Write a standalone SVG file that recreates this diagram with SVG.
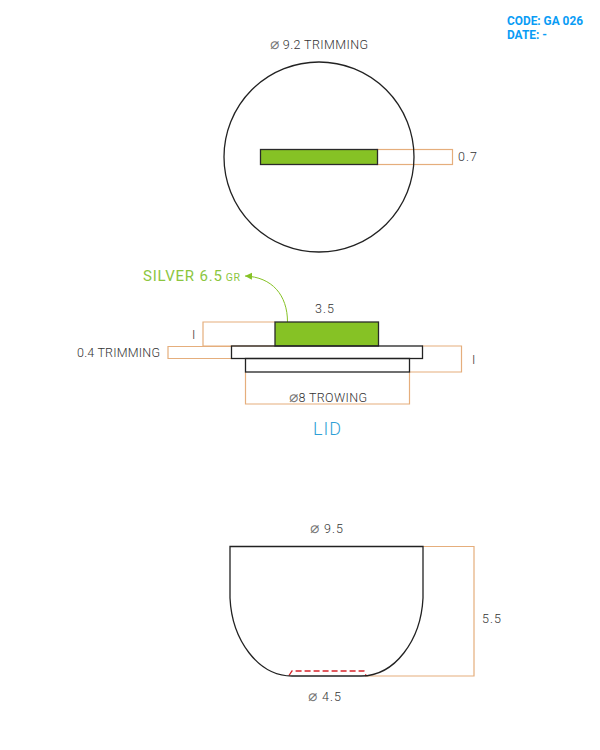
<svg xmlns="http://www.w3.org/2000/svg" width="600" height="750" viewBox="0 0 600 750">
<style>
.o{fill:none;stroke:#e5ae7c;stroke-width:1.2}
.k{fill:none;stroke:#222;stroke-width:1.3}
.g{fill:#86c225;stroke:#2a2a2a;stroke-width:1.3}
.t{font-family:Roboto,"Liberation Sans",sans-serif;font-weight:300;font-size:12.500px;fill:#333;letter-spacing:1px}
.d{font-family:"DejaVu Sans",sans-serif;font-size:15px;font-weight:400;fill:#777}
.c{font-family:Roboto,"Liberation Sans",sans-serif;font-size:12px;font-weight:700;fill:#0a9cf5}
</style>
<defs><marker id="ah" markerWidth="8" markerHeight="8" refX="7" refY="3.5" orient="auto"><path d="M0 0L7 3.5L0 7Z" fill="#86c225"/></marker></defs>
<rect width="600" height="750" fill="#fff"/>
<g id="connectors">
<rect class="o" x="377" y="149.500" width="75.500" height="15"/>
<path class="o" d="M275 322H203V346H275"/>
<path class="o" d="M231 346.500H168V358.500H231"/>
<path class="o" d="M422 346H461.500V372H409"/>
<path class="o" d="M245.500 372V404H409.500V372"/>
<path class="o" d="M423 546.500H474V676H365"/>
<path d="M287.500 322C287.500 295 272 277 245 276" fill="none" stroke="#86c225" stroke-width="1" marker-end="url(#ah)"/>
<path d="M289 675.500L292 671H364L366 675.500" fill="none" stroke="#d8232a" stroke-width="1.300" stroke-dasharray="6 3"/>
</g>
<g id="code"><text class="c" x="507" y="25" textLength="76" lengthAdjust="spacingAndGlyphs">CODE: GA 026</text><text class="c" x="507" y="39" textLength="40" lengthAdjust="spacingAndGlyphs">DATE: -</text></g>
<g id="top-view">
<circle class="k" cx="319" cy="157" r="95"/>
<rect class="g" x="260.500" y="149.500" width="117" height="15"/>
<text class="t" x="270" y="49" textLength="99"><tspan class="d">⌀</tspan> 9.2 TRIMMING</text>
<text class="t" x="458" y="161">0.7</text>
</g>
<g id="lid">
<rect class="g" x="275" y="322" width="103.500" height="24"/>
<rect class="k" x="231.500" y="346" width="191" height="12.500"/>
<rect class="k" x="245.500" y="358.500" width="164" height="13.500"/>
<text class="t" x="315" y="313">3.5</text>
<text class="t" x="192" y="339">I</text>
<text class="t" x="77" y="357" textLength="84">0.4 TRIMMING</text>
<text class="t" x="472" y="364">I</text>
<text class="t" x="289" y="402" textLength="79"><tspan class="d">⌀</tspan>8 TROWING</text>
<text x="313" y="435" font-family="Roboto,'Liberation Sans',sans-serif" font-weight="300" font-size="18" letter-spacing="1" fill="#2f9fd6">LID</text>
<text x="143" y="281" font-family="Roboto,'Liberation Sans',sans-serif" font-size="15" letter-spacing=".8" fill="#8cc63f">SILVER 6.5<tspan font-size="10.500" dx="3">GR</tspan></text>
</g>
<g id="cup">
<path class="k" d="M230 546.500H423V598C421 640 395 676 361 676H292C258 676 232 640 230 598Z"/>
<text class="t" x="310" y="533"><tspan class="d">⌀</tspan> 9.5</text>
<text class="t" x="482" y="623">5.5</text>
<text class="t" x="308" y="701"><tspan class="d">⌀</tspan> 4.5</text>
</g>
</svg>
